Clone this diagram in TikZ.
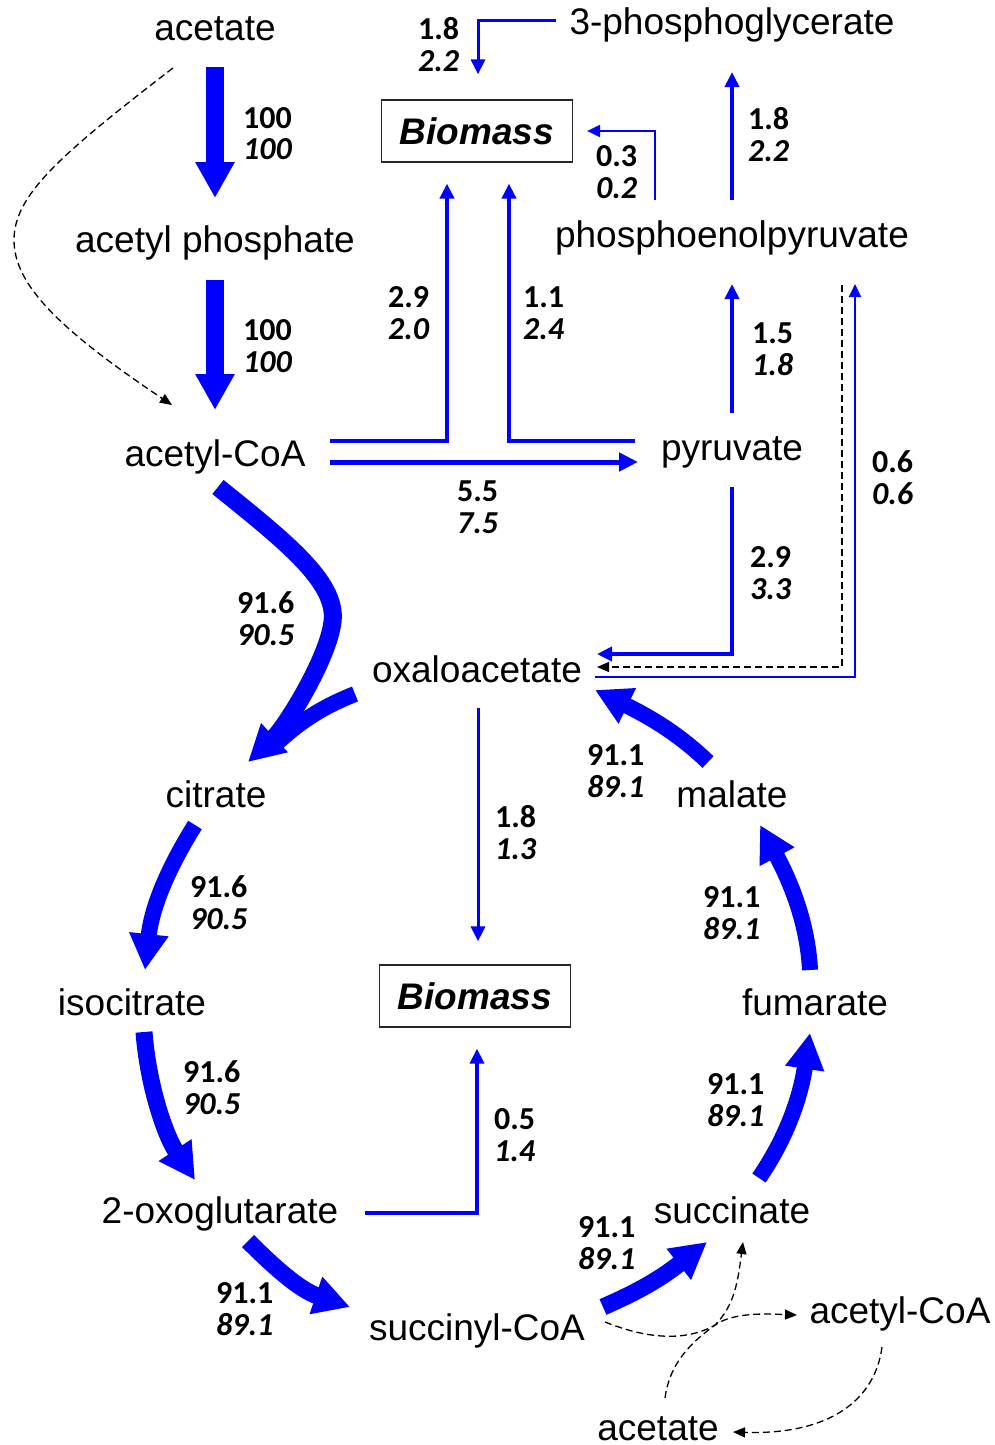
\documentclass[tikz,border=0pt]{standalone}
\usepackage{fontspec}
\setmainfont{Liberation Sans}
\newfontfamily\numfont{Carlito}
\usetikzlibrary{arrows.meta,calc}
\newcommand\fl[2]{\begin{tabular}[t]{@{}l@{}}#1\\\textit{#2}\end{tabular}}
\begin{document}
\begin{tikzpicture}[x=1pt,y=-1pt,
  met/.style={font=\fontsize{37}{41}\selectfont, inner sep=0pt, anchor=base},
  bio/.style={draw=black!85, line width=1.2pt, minimum width=191pt, minimum height=62pt, inner sep=0pt, font=\fontsize{37}{41}\selectfont\bfseries\itshape},
  num/.style={font=\numfont\fontsize{32}{32}\selectfont\bfseries, inner sep=0pt, anchor=base west},
  fat/.style={draw=blue, line width=#1, -{Triangle[width=37pt,length=36pt]}},
  fat/.default=18pt,
  band/.style={draw=blue, line width=16pt},
  bl/.style={draw=blue, line width=#1, -{Triangle[width=14pt,length=15pt]}},
  blthin/.style={draw=blue, line width=2pt, -{Triangle[width=12pt,length=13pt]}},
  blwide/.style={draw=blue, line width=5pt, -{Triangle[width=18pt,length=19pt]}},
  dsh/.style={draw=black, line width=1.3pt, dash pattern=on 7pt off 4pt, -{Triangle[width=10pt,length=12pt]}}
]
\useasboundingbox (0,0) rectangle (995,1445);

% metabolites
\node[met] (acA) at (215,41) {acetate};
\node[met] (acP) at (215,252) {acetyl phosphate};
\node[met] (acoa) at (215,466) {acetyl-CoA};
\node[met] (pg3) at (732,35) {3-phosphoglycerate};
\node[bio] (bm1) at (477,131) {Biomass};
\node[met] (pep) at (732,247) {phosphoenolpyruvate};
\node[met] (pyr) at (732,460) {pyruvate};
\node[met] (oaa) at (477,682) {oxaloacetate};
\node[met] (cit) at (216,807) {citrate};
\node[met] (mal) at (732,807) {malate};
\node[met] (iso) at (132,1015) {isocitrate};
\node[bio] (bm2) at (475,996) {Biomass};
\node[met] (fum) at (815,1015) {fumarate};
\node[met] (ogl) at (220,1223) {2-oxoglutarate};
\node[met] (suc) at (732,1223) {succinate};
\node[met] (sucoa) at (477,1340) {succinyl-CoA};
\node[met] (acoa2) at (900,1323) {acetyl-CoA};
\node[met] (ac2) at (658,1440) {acetate};

% flux labels
\node[num] (f1) at (243,128) {\fl{100}{100}};
\node[num] (f2) at (243,340) {\fl{100}{100}};
\node[num] (f3) at (418,40) {\fl{1.8}{2.2}};
\node[num] (f4) at (388,307) {\fl{2.9}{2.0}};
\node[num] (f5) at (523,307) {\fl{1.1}{2.4}};
\node[num] (f6) at (596,166) {\fl{0.3}{0.2}};
\node[num] (f7) at (748,129) {\fl{1.8}{2.2}};
\node[num] (f8) at (752,343) {\fl{1.5}{1.8}};
\node[num] (f9) at (872,472) {\fl{0.6}{0.6}};
\node[num] (f10) at (457,501) {\fl{5.5}{7.5}};
\node[num] (f11) at (750,567) {\fl{2.9}{3.3}};
\node[num] (f12) at (237,613) {\fl{91.6}{90.5}};
\node[num] (f13) at (190,897) {\fl{91.6}{90.5}};
\node[num] (f14) at (495,827) {\fl{1.8}{1.3}};
\node[num] (f15) at (587,765) {\fl{91.1}{89.1}};
\node[num] (f16) at (703,907) {\fl{91.1}{89.1}};
\node[num] (f17) at (183,1082) {\fl{91.6}{90.5}};
\node[num] (f18) at (494,1129) {\fl{0.5}{1.4}};
\node[num] (f19) at (707,1094) {\fl{91.1}{89.1}};
\node[num] (f20) at (578,1237) {\fl{91.1}{89.1}};
\node[num] (f21) at (216,1303) {\fl{91.1}{89.1}};

% straight thick
\draw[fat] ($(acA.base)+(0,26)$) -- ($(acP.base)+(0,-54)$);
\draw[fat] ($(acP.base)+(0,28)$) -- ($(acoa.base)+(0,-56)$);
% dashed acetate -> acetyl-CoA
\draw[dsh] ($(acA.base)+(-42,27)$) .. controls (60,155) and (14,195) .. (14,240)
   .. controls (14,285) and (60,330) .. ($(acoa.base)+(-43,-61)$);

% thin blue connectors
\draw[bl=4.5pt] ($(acoa.base)+(115,-25)$) -| ($(bm1.south)+(-30,21)$);
\draw[blwide] ($(acoa.base)+(115,-4)$) -- ($(pyr.base)+(-94,2)$);
\draw[bl=4.5pt] ($(pyr.base)+(-97,-19)$) -| ($(bm1.south)+(32,21)$);
\draw[bl=3pt] ($(pg3.base)+(-176,-14)$) -| ($(bm1.north)+(1,-25)$);
\draw[blthin] ($(pep.base)+(-77,-47)$) |- ($(bm1.east)+(14,0)$);
\draw[bl=4pt] ($(pep.base)+(0,-47)$) -- ($(pg3.base)+(0,37)$);
\draw[bl=4pt] ($(pyr.base)+(0,-47)$) -- ($(pep.base)+(0,37)$);
\draw[blthin] ($(oaa.base)+(118,-5)$) -| ($(pep.base)+(123,37)$);
\draw[dsh] ($(pep.base)+(110,38)$) |- ($(oaa.base)+(120,-15)$);
\draw[bl=4pt] ($(pyr.base)+(0,27)$) |- ($(oaa.base)+(120,-28)$);
\draw[bl=3pt] ($(oaa.base)+(1,26)$) -- ($(bm2.north)+(3,-23)$);
\draw[bl=3.5pt] ($(ogl.base)+(145,-10)$) -| ($(bm2.south)+(2,21)$);

% TCA thick curves
\draw[band] ($(oaa.base)+(-122,12)$) .. controls (320,708) and (300,722) .. ($(cit.base)+(62,-65)$);
\draw[fat] ($(acoa.base)+(3,21)$) .. controls (290,545) and (340,585) .. (332,625)
   .. controls (326,662) and (285,728) .. ($(cit.base)+(32,-45)$);
\draw[fat=16pt] ($(cit.base)+(-21,18)$) .. controls (170,865) and (152,905) .. ($(iso.base)+(13,-45)$);
\draw[fat=17pt] ($(iso.base)+(12,17)$) .. controls (148,1085) and (165,1135) .. ($(ogl.base)+(-25,-43)$);
\draw[fat=17pt] ($(ogl.base)+(28,18)$) .. controls (275,1268) and (300,1290) .. ($(sucoa.base)+(-127,-33)$);
\draw[fat=17pt] ($(sucoa.base)+(126,-33)$) .. controls (630,1295) and (655,1283) .. ($(suc.base)+(-25,19)$);
\draw[fat=16pt] ($(suc.base)+(27,-45)$) .. controls (785,1140) and (800,1100) .. ($(fum.base)+(-5,18)$);
\draw[fat=16pt] ($(fum.base)+(-5,-45)$) .. controls (808,930) and (795,890) .. ($(mal.base)+(28,18)$);
\draw[fat=16pt] ($(mal.base)+(-24,-45)$) .. controls (685,740) and (660,722) .. ($(oaa.base)+(118,8)$);

% dashed bottom
\draw[dsh] ($(sucoa.base)+(128,-18)$) .. controls (650,1340) and (690,1342) .. (720,1322)
   .. controls (740,1312) and (770,1314) .. ($(acoa2.base)+(-103,-8)$);
\draw[dsh] ($(ac2.base)+(7,-42)$) .. controls (670,1360) and (695,1340) .. (715,1325)
   .. controls (735,1305) and (738,1280) .. ($(suc.base)+(11,19)$);
\draw[dsh] ($(acoa2.base)+(-18,24)$) .. controls (875,1400) and (830,1435) .. ($(ac2.base)+(75,-8)$);
\end{tikzpicture}
\end{document}
